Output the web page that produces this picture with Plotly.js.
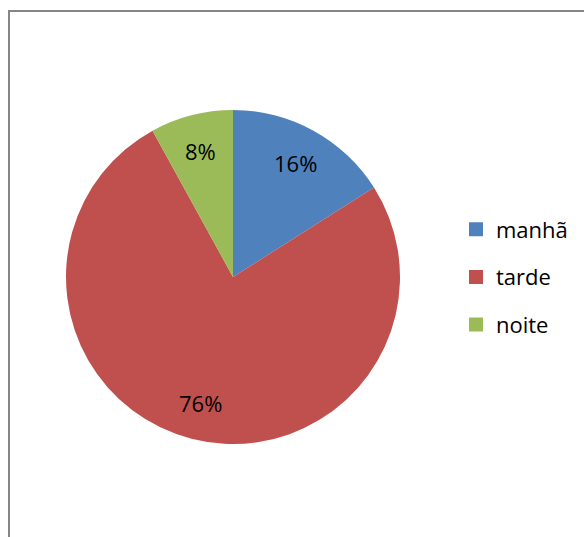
<!DOCTYPE html>
<html>
<head>
<meta charset="utf-8">
<script src="https://cdn.plot.ly/plotly-3.0.1.min.js"></script>
<style>
html,body{margin:0;padding:0;background:#fff;}
#chart{width:584px;height:537px;}
</style>
</head>
<body>
<div id="chart"></div>
<script>
var labels = ["manhã", "tarde", "noite"];
var values = [16, 76, 8];
var colors = ["#4F81BD", "#C0504D", "#9BBB59"];

var FONT = "Open Sans, sans-serif";
var W = 584, H = 537;
var CX = 233, CY = 277, R = 167;   // pie centre and radius in pixels

var data = [{
  type: "pie",
  labels: labels,
  values: values,
  sort: false,
  direction: "clockwise",
  rotation: 0,
  marker: {colors: colors, line: {color: "#ffffff", width: 0}},
  textinfo: "none",
  domain: {x: [(CX - R) / W, (CX + R) / W], y: [(H - CY - R) / H, (H - CY + R) / H]},
  showlegend: false,
  hoverinfo: "label+percent"
}];

labels.forEach(function (lab, i) {
  data.push({
    type: "scatter",
    x: [null], y: [null],
    mode: "markers",
    name: lab,
    legendgroup: "g" + i,
    marker: {symbol: "square", size: 14, color: colors[i]},
    showlegend: true,
    hoverinfo: "skip"
  });
});

// percentage labels placed along each slice's middle angle
var total = values.reduce(function (a, b) { return a + b; }, 0);
var cum = 0;
var annotations = values.map(function (v) {
  var mid = (cum + v / 2) / total * 2 * Math.PI;
  cum += v;
  var f = 0.78;
  return {
    xref: "paper", yref: "paper",
    x: (CX + f * R * Math.sin(mid)) / W,
    y: (H - CY + f * R * Math.cos(mid)) / H,
    xanchor: "center", yanchor: "middle",
    showarrow: false,
    text: Math.round(v / total * 100) + "%",
    font: {family: FONT, size: 22, color: "#000000"}
  };
});

var layout = {
  width: W, height: H,
  margin: {l: 0, r: 0, t: 0, b: 0},
  paper_bgcolor: "#ffffff",
  plot_bgcolor: "rgba(0,0,0,0)",
  showlegend: true,
  xaxis: {visible: false},
  yaxis: {visible: false},
  annotations: annotations,
  legend: {
    x: 456 / W, y: (H - 277) / H, xanchor: "left", yanchor: "middle",
    font: {family: FONT, size: 22, color: "#000000"},
    tracegroupgap: 16,
    traceorder: "grouped",
    itemwidth: 30,
    bgcolor: "rgba(0,0,0,0)"
  },
  shapes: [{
    type: "rect", xref: "paper", yref: "paper",
    x0: 9 / W, x1: 1.05, y0: -0.05, y1: 1 - 11 / H,
    line: {color: "#868686", width: 2}, fillcolor: "rgba(0,0,0,0)", layer: "below"
  }]
};

Plotly.newPlot("chart", data, layout, {displayModeBar: false, staticPlot: true});
</script>
</body>
</html>
